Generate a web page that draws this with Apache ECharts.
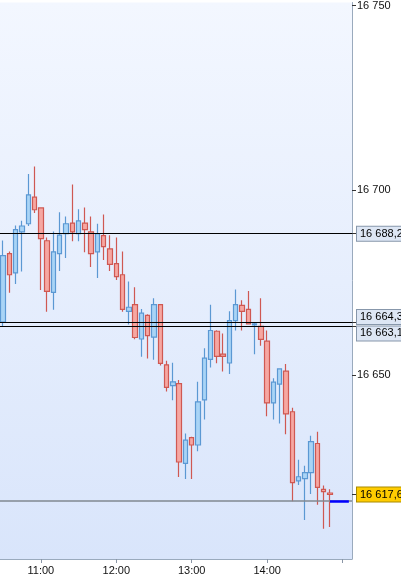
<!DOCTYPE html>
<html>
<head>
<meta charset="utf-8">
<style>
html,body{margin:0;padding:0;background:#fff;}
#chart{width:401px;height:577px;}
</style>
<script src="https://cdn.jsdelivr.net/npm/echarts@6/dist/echarts.min.js"></script>
</head>
<body>
<div id="chart"></div>
<script>
var categories = ['10:30','10:35','10:40','10:45','10:50','10:55','11:00','11:05','11:10','11:15','11:20','11:25',
  '11:30','11:35','11:40','11:45','11:50','11:55','12:00','12:05','12:10','12:15','12:20','12:25',
  '12:30','12:35','12:40','12:45','12:50','12:55','13:00','13:05','13:10','13:15','13:20','13:25',
  '13:30','13:35','13:40','13:45','13:50','13:55','14:00','14:05','14:10','14:15','14:20','14:25',
  '14:30','14:35','14:40','14:45','14:50','14:55','15:00','15:05'];
var openValues = [16664.3,16682.8,16677.6,16688.7,16690.9,16698.1,16695.2,16686.3,16672.3,16682.8,16688.2,16691.1,
  16688.2,16691.1,16688.7,16683.3,16687.7,16684.1,16680.1,16677.1,16667.2,16669.0,16659.7,16666.1,
  16660.2,16669.0,16652.7,16647.1,16647.6,16626.0,16633.0,16631.0,16643.2,16654.2,16661.8,16655.6,
  16653.2,16664.7,16668.8,16667.7,16663.5,16663.1,16659.1,16642.4,16647.5,16651.0,16640.0,16621.3,
  16621.9,16623.5,16631.4,16619.0,16618.0];
var closeValues = [16682.3,16677.1,16689.3,16690.3,16698.7,16694.7,16686.9,16672.6,16683.3,16687.8,16690.9,16688.7,
  16691.7,16689.3,16682.8,16688.2,16684.7,16679.9,16676.6,16667.7,16668.3,16660.1,16666.7,16660.6,
  16669.0,16653.1,16646.6,16648.1,16626.4,16632.3,16631.0,16642.7,16654.5,16662.0,16655.0,16655.0,
  16664.7,16669.0,16667.2,16663.8,16663.8,16659.6,16642.4,16648.0,16651.6,16639.4,16620.8,16622.4,
  16623.5,16631.9,16619.5,16618.4,16617.6];
var lowValues = [16663.2,16672.2,16674.6,16678.0,16690.3,16693.8,16673.0,16667.1,16667.6,16678.1,16681.6,16686.2,
  16686.2,16683.2,16679.2,16676.2,16681.1,16678.1,16675.7,16667.1,16663.6,16659.6,16654.9,16654.4,
  16654.1,16652.5,16645.5,16643.1,16622.3,16621.8,16621.8,16629.3,16637.9,16652.0,16653.1,16650.9,
  16650.2,16662.0,16662.0,16663.6,16655.6,16657.9,16638.8,16637.9,16636.8,16633.9,16615.8,16620.2,
  16610.7,16617.7,16614.8,16608.3,16608.8];
var highValues = [16686.4,16683.4,16690.4,16691.7,16704.4,16706.4,16695.3,16687.2,16688.8,16694.0,16692.9,16701.5,
  16694.8,16695.3,16692.9,16690.9,16693.4,16687.8,16687.2,16683.4,16675.3,16673.7,16667.8,16666.4,
  16670.7,16669.2,16653.8,16653.3,16648.6,16634.1,16633.2,16648.1,16657.2,16669.0,16662.1,16661.2,
  16667.2,16673.1,16670.2,16672.7,16664.1,16670.7,16662.0,16649.1,16651.8,16652.9,16641.1,16627.0,
  16625.4,16633.5,16634.6,16620.0,16619.0];
var yTickValues = [16650, 16700, 16750];
var xTickLabels = ['11:00','12:00','13:00','14:00'];
var xTickMarks = ['11:00','12:00','13:00','14:00','15:00'];
var levelLines = [16688.2, 16664.3, 16663.1];
var lastPrice = 16617.6;
var bidLine = 16615.9;
var lastCandleTime = '14:50';
var axisEndTime = '15:05';

function fmt(v, d) {
  var s = v.toFixed(d);
  var parts = s.split('.');
  var ip = parts[0].replace(/\B(?=(\d{3})+(?!\d))/g, ' ');
  return parts.length > 1 ? ip + ',' + parts[1] : ip;
}

var ohlc = openValues.map(function (o, i) {
  return [o, closeValues[i], lowValues[i], highValues[i]];
});

var FONT = '"Liberation Sans", Arial, sans-serif';
var boxLabel = {
  show: true, position: 'end', distance: 5, color: '#000', fontSize: 11, fontFamily: FONT,
  backgroundColor: '#dde6f4', borderColor: '#8797ab', borderWidth: 1, padding: [2, 3, 1, 3]
};
var labelOffsets = [[0, 0], [0, -5], [0, 7]];

var markData = levelLines.map(function (v, i) {
  return {
    yAxis: v,
    lineStyle: { color: '#000', width: 1, type: 'solid' },
    label: Object.assign({}, boxLabel, { formatter: fmt(v, 1), offset: labelOffsets[i] })
  };
});
markData.push({
  yAxis: bidLine,
  lineStyle: { color: '#808890', width: 1.5, type: 'solid' },
  label: { show: false }
});
markData.push({
  yAxis: lastPrice,
  lineStyle: { color: 'rgba(0,0,0,0)', width: 1, type: 'solid' },
  label: Object.assign({}, boxLabel, {
    formatter: fmt(lastPrice, 1), backgroundColor: '#ffcc00', borderColor: '#a88a00'
  })
});
markData.push([
  { coord: [lastCandleTime, bidLine], lineStyle: { color: '#0000ff', width: 2.5, type: 'solid' }, label: { show: false } },
  { coord: [axisEndTime, bidLine] }
]);

var chart = echarts.init(document.getElementById('chart'), null, { renderer: 'canvas' });
chart.setOption({
  animation: false,
  backgroundColor: '#ffffff',
  grid: {
    left: 0, top: 0, right: 49, bottom: 18,
    show: true, borderWidth: 0,
    backgroundColor: new echarts.graphic.LinearGradient(0, 0, 0, 1, [
      { offset: 0, color: '#f3f7ff' },
      { offset: 1, color: '#d9e5fb' }
    ])
  },
  xAxis: {
    type: 'category',
    data: categories,
    boundaryGap: true,
    axisLine: { show: true, lineStyle: { color: '#9aaabd', width: 1 } },
    axisTick: {
      show: true, alignWithLabel: true, length: 4,
      interval: function (i, v) { return xTickMarks.indexOf(v) >= 0; },
      lineStyle: { color: '#8a96a6' }
    },
    axisLabel: {
      show: true, color: '#111', fontSize: 11, fontFamily: FONT, margin: 6,
      interval: function (i, v) { return xTickLabels.indexOf(v) >= 0; }
    },
    splitLine: { show: false }
  },
  yAxis: {
    type: 'value',
    position: 'right',
    min: 16600.13,
    max: 16750.81,
    scale: true,
    axisLine: { show: true, lineStyle: { color: '#9aaabd', width: 1 } },
    axisTick: {
      show: true, length: 4, inside: false,
      customValues: yTickValues.concat(levelLines, [lastPrice]),
      lineStyle: { color: '#333' }
    },
    axisLabel: {
      show: true, color: '#111', fontSize: 11, fontFamily: FONT, margin: 5,
      customValues: yTickValues,
      formatter: function (v) { return fmt(v, 0); }
    },
    splitLine: { show: false }
  },
  series: [{
    type: 'candlestick',
    data: ohlc,
    barWidth: 5,
    itemStyle: {
      color: '#a9d4f6',
      color0: '#f6a7a2',
      borderColor: '#5b98d3',
      borderColor0: '#cf5852',
      borderWidth: 1.2
    },
    markLine: {
      silent: true,
      symbol: ['none', 'none'],
      animation: false,
      data: markData
    }
  }]
});
</script>
</body>
</html>
